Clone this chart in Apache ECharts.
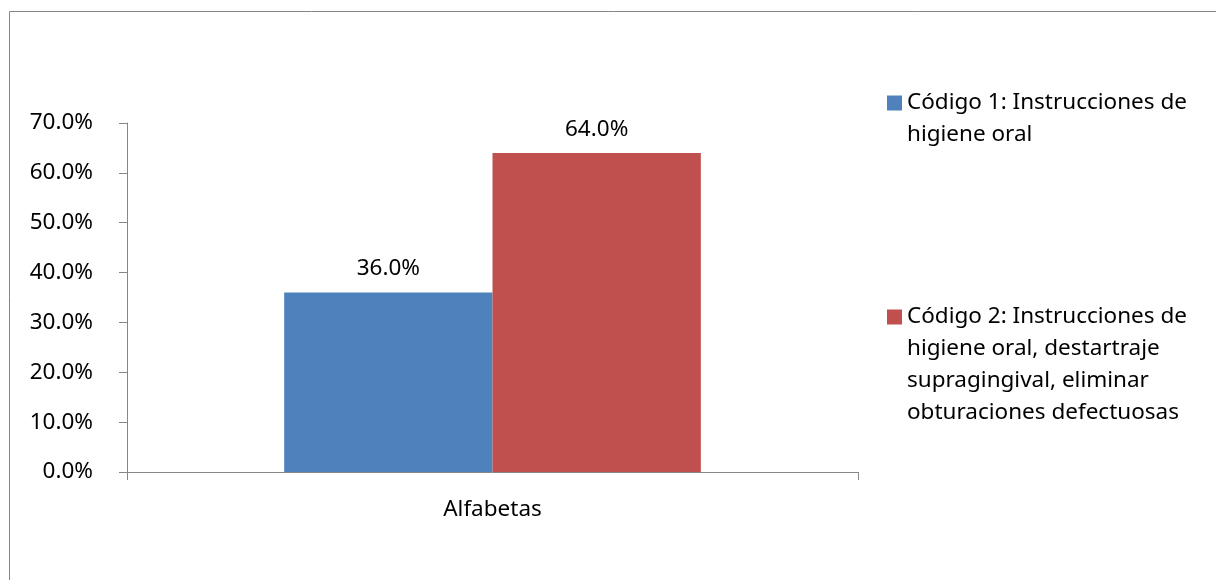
<!DOCTYPE html>
<html>
<head>
<meta charset="utf-8">
<title>Alfabetas</title>
<script src="https://cdn.jsdelivr.net/npm/echarts@6/dist/echarts.min.js"></script>
<style>
  html, body { margin: 0; padding: 0; background: #ffffff; }
  #chart { width: 1216px; height: 580px; }
</style>
</head>
<body>
<div id="chart"></div>
<script>
// Categories and series values (percent)
const categories = ['Alfabetas'];
const seriesNames = [
  'Código 1: Instrucciones de\nhigiene oral',
  'Código 2: Instrucciones de\nhigiene oral, destartraje\nsupragingival, eliminar\nobturaciones defectuosas'
];
const codigo1 = [36.0];
const codigo2 = [64.0];
const yTicks = { min: 0, max: 70, interval: 10 };

const FONT = '"Noto Sans", "Open Sans", sans-serif';
const FS = 22.5;
const LH = 32;
const AXIS = '#868686';
const TEXT = '#000000';
const COLORS = ['#4F81BD', '#C0504D'];

const pct = v => Number(v).toFixed(1) + '%';

// Legend entry whose square marker lines up with the first text line:
// blank lines are prepended so the text block stays centred on the marker.
function legendFor(name, firstLineY) {
  const lines = name.split('\n').length;
  return {
    data: [name],
    orient: 'vertical',
    left: 887,
    top: firstLineY - (2 * lines - 1) * LH / 2,
    padding: 0,
    icon: 'rect',
    itemWidth: 15,
    itemHeight: 15,
    selectedMode: false,
    formatter: n => '\n'.repeat(lines - 1) + n,
    textStyle: { fontFamily: FONT, fontSize: FS, color: TEXT, lineHeight: LH }
  };
}

const chart = echarts.init(document.getElementById('chart'), null, { renderer: 'canvas' });
chart.setOption({
  animation: false,
  backgroundColor: '#ffffff',
  textStyle: { fontFamily: FONT },
  graphic: [{
    type: 'rect',
    shape: { x: 9.5, y: 11.5, width: 1300, height: 700 },
    style: { fill: 'none', stroke: AXIS, lineWidth: 1 },
    silent: true, z: -10
  }],
  grid: { left: 127, right: 358, top: 123, bottom: 108, containLabel: false },
  legend: [
    legendFor(seriesNames[0], 103),
    legendFor(seriesNames[1], 317)
  ],
  xAxis: {
    type: 'category',
    data: categories,
    axisLine: { show: true, lineStyle: { color: AXIS, width: 1 } },
    axisTick: { show: true, length: 8, lineStyle: { color: AXIS } },
    axisLabel: { color: TEXT, fontFamily: FONT, fontSize: FS, margin: 26 }
  },
  yAxis: {
    type: 'value',
    min: yTicks.min, max: yTicks.max, interval: yTicks.interval,
    axisLine: { show: true, lineStyle: { color: AXIS, width: 1 } },
    axisTick: { show: true, length: 8, lineStyle: { color: AXIS } },
    splitLine: { show: false },
    axisLabel: { color: TEXT, fontFamily: FONT, fontSize: FS, margin: 34, formatter: pct }
  },
  series: [
    {
      name: seriesNames[0], type: 'bar', data: codigo1,
      itemStyle: { color: COLORS[0] },
      barGap: '0%', barCategoryGap: '43%',
      label: { show: true, position: 'top', distance: 12, color: TEXT, fontFamily: FONT, fontSize: FS, formatter: p => pct(p.value) }
    },
    {
      name: seriesNames[1], type: 'bar', data: codigo2,
      itemStyle: { color: COLORS[1] },
      barGap: '0%', barCategoryGap: '43%',
      label: { show: true, position: 'top', distance: 12, color: TEXT, fontFamily: FONT, fontSize: FS, formatter: p => pct(p.value) }
    }
  ]
});
</script>
</body>
</html>
